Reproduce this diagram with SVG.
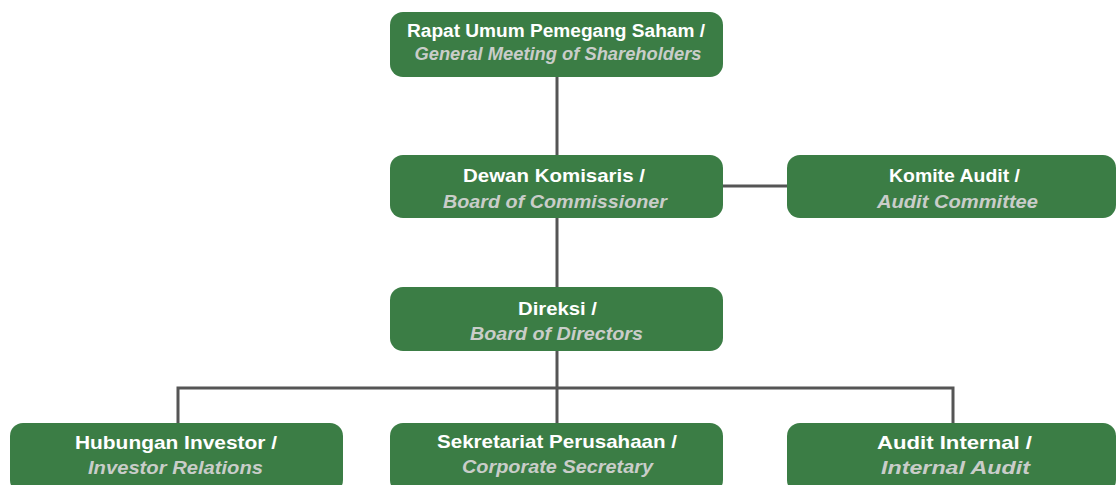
<svg xmlns="http://www.w3.org/2000/svg" width="1116" height="485" viewBox="0 0 1116 485">
<style>
.box{fill:#3b7d45;}
.t1{font-family:"Liberation Sans",Arial,sans-serif;font-weight:bold;font-size:19px;fill:#ffffff;text-anchor:middle;}
.t2{font-family:"Liberation Sans",Arial,sans-serif;font-weight:bold;font-style:italic;font-size:19px;fill:#c9cdc9;text-anchor:middle;}
.s{font-size:17.5px;}
.conn{stroke:#555555;stroke-width:3;fill:none;}
</style>
<rect width="1116" height="485" fill="#ffffff"/>
<g id="connectors">
<line class="conn" x1="557" y1="76" x2="557" y2="156"/>
<line class="conn" x1="557" y1="217" x2="557" y2="288"/>
<line class="conn" x1="722" y1="186" x2="788" y2="186"/>
<line class="conn" x1="557" y1="350" x2="557" y2="424"/>
<polyline class="conn" points="178,424 178,388 953,388 953,424"/>
</g>
<g id="rups">
<rect class="box" x="390" y="12" width="333" height="65" rx="13"/>
<text class="t1 s" x="556" y="37" textLength="298" lengthAdjust="spacingAndGlyphs">Rapat Umum Pemegang Saham /</text>
<text class="t2 s" x="558" y="60" textLength="287" lengthAdjust="spacingAndGlyphs">General Meeting of Shareholders</text>
</g>
<g id="dewan">
<rect class="box" x="390" y="155" width="333" height="63" rx="13"/>
<text class="t1" x="554" y="182" textLength="182" lengthAdjust="spacingAndGlyphs">Dewan Komisaris /</text>
<text class="t2" x="555" y="208" textLength="224" lengthAdjust="spacingAndGlyphs">Board of Commissioner</text>
</g>
<g id="komite">
<rect class="box" x="787" y="155" width="329" height="63" rx="13"/>
<text class="t1" x="954.5" y="182" textLength="131" lengthAdjust="spacingAndGlyphs">Komite Audit /</text>
<text class="t2" x="957.5" y="208" textLength="161" lengthAdjust="spacingAndGlyphs">Audit Committee</text>
</g>
<g id="direksi">
<rect class="box" x="390" y="287" width="333" height="64" rx="13"/>
<text class="t1" x="557.5" y="315" textLength="79" lengthAdjust="spacingAndGlyphs">Direksi /</text>
<text class="t2" x="556.5" y="340" textLength="173" lengthAdjust="spacingAndGlyphs">Board of Directors</text>
</g>
<g id="hubungan">
<rect class="box" x="10" y="423" width="333" height="70" rx="13"/>
<text class="t1" x="176" y="449" textLength="202" lengthAdjust="spacingAndGlyphs">Hubungan Investor /</text>
<text class="t2" x="175.5" y="474" textLength="175" lengthAdjust="spacingAndGlyphs">Investor Relations</text>
</g>
<g id="sekretariat">
<rect class="box" x="390" y="423" width="333" height="70" rx="13"/>
<text class="t1" x="557" y="448" textLength="240" lengthAdjust="spacingAndGlyphs">Sekretariat Perusahaan /</text>
<text class="t2" x="557.5" y="473" textLength="191" lengthAdjust="spacingAndGlyphs">Corporate Secretary</text>
</g>
<g id="audit-internal">
<rect class="box" x="787" y="423" width="329" height="70" rx="13"/>
<text class="t1" x="954.5" y="449" textLength="155" lengthAdjust="spacingAndGlyphs">Audit Internal /</text>
<text class="t2" x="955.5" y="474" textLength="149" lengthAdjust="spacingAndGlyphs">Internal Audit</text>
</g>
</svg>
